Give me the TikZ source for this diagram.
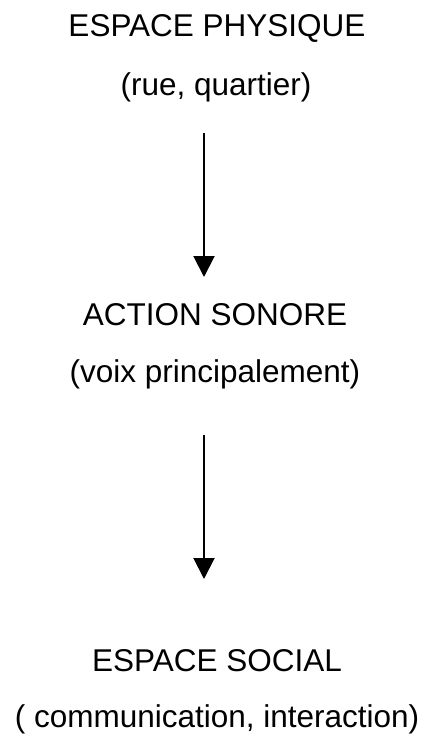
\documentclass[tikz,border=0pt]{standalone}
\usepackage{fontspec}
\setmainfont{Liberation Sans}
\usepackage{tikz}
\usetikzlibrary{arrows.meta,positioning}
\tikzset{
  titre/.style={inner sep=0pt, anchor=base, font=\fontsize{31.5}{37}\selectfont},
  sous/.style={titre},
  fleche/.style={line width=2pt, -{Triangle[width=21pt,length=21pt]}},
}

\begin{document}
\begin{tikzpicture}[x=1pt,y=1pt]
    \useasboundingbox (0,0) rectangle (425,-736);
    \node[titre] (physique) at (217,-36) {ESPACE PHYSIQUE};
    \node[sous] (rue) at (216,-95) {(rue, quartier)};
    \node[titre] (action) at (215,-325) {ACTION SONORE};
    \node[sous] (voix) at (215,-382) {(voix principalement)};
    \node[titre] (social) at (217,-671) {ESPACE SOCIAL};
    \node[sous] (comm) at (217,-727) {( communication, interaction)};
    \coordinate (haut1) at (204,-133);
    \coordinate (bas1) at (204,-277);
    \coordinate (haut2) at (204,-435);
    \coordinate (bas2) at (204,-579);
    \draw[fleche] (haut1) -- (bas1);
    \draw[fleche] (haut2) -- (bas2);
  \end{tikzpicture}
\end{document}
